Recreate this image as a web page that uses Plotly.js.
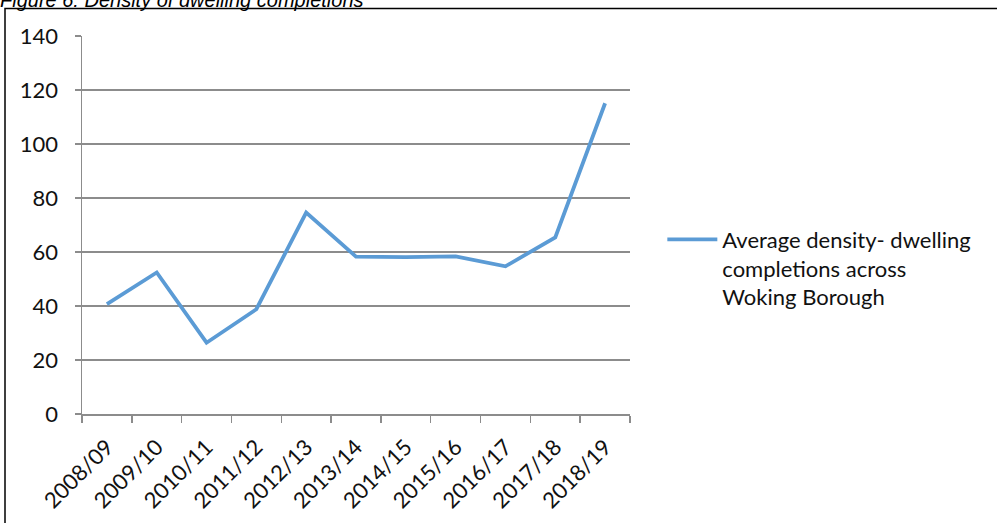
<!DOCTYPE html>
<html>
<head>
<meta charset="utf-8">
<script src="https://cdn.plot.ly/plotly-3.0.1.min.js"></script>
<style>
  html, body { margin: 0; padding: 0; background: #fff; }
  #chart { width: 997px; height: 523px; }
</style>
</head>
<body>
<div id="chart"></div>
<script>
// Financial years covered by the monitoring period
const years = ['2008/09', '2009/10', '2010/11', '2011/12', '2012/13', '2013/14',
               '2014/15', '2015/16', '2016/17', '2017/18', '2018/19'];

// Average density of dwelling completions (dwellings per hectare)
const avgDensity = [40.7, 52.4, 26.4, 38.8, 74.6, 58.3, 58.1, 58.4, 54.7, 65.4, 115.1];

const seriesName = 'Average density- dwelling<br>completions across<br>Woking Borough';
const yTicks = [0, 20, 40, 60, 80, 100, 120, 140];

const gridGray = '#8c8c8c';
const labelFont = { family: 'Lato, "Open Sans", sans-serif', size: 22, color: '#111' };

const trace = {
  type: 'scatter',
  mode: 'lines',
  x: years,
  y: avgDensity,
  name: seriesName,
  line: { color: '#5b9bd5', width: 3.8 },
  showlegend: true
};

const layout = {
  width: 997,
  height: 523,
  margin: { l: 82, r: 367, t: 36, b: 109 },
  paper_bgcolor: '#fff',
  plot_bgcolor: '#fff',
  title: {
    text: 'Figure 6: Density of dwelling completions',
    font: { family: '"Liberation Sans", Arial, sans-serif', size: 20, style: 'italic', color: '#000' },
    xref: 'container', x: 0, xanchor: 'left',
    yref: 'container', y: 1 - 7 / 523, yanchor: 'bottom',
    pad: { t: 0, b: 0, l: 0, r: 0 }
  },
  xaxis: {
    type: 'category',
    range: [-0.5, 10.5],
    tickson: 'boundaries',
    ticks: 'outside',
    ticklen: 7,
    tickcolor: gridGray,
    tickwidth: 1.5,
    showline: true,
    linecolor: gridGray,
    linewidth: 1.5,
    showgrid: false,
    tickangle: -45,
    tickfont: labelFont,
    ticklabelstandoff: 10,
    fixedrange: true
  },
  yaxis: {
    range: [0, 140],
    tickvals: yTicks,
    ticks: 'outside',
    ticklen: 6,
    tickcolor: gridGray,
    tickwidth: 1.5,
    showline: true,
    linecolor: gridGray,
    linewidth: 1.5,
    showgrid: true,
    gridcolor: gridGray,
    gridwidth: 1.2,
    zeroline: false,
    tickfont: labelFont,
    ticklabelstandoff: 12,
    fixedrange: true
  },
  legend: {
    x: 1.059, xanchor: 'left',
    y: 0.386, yanchor: 'middle',
    valign: 'top',
    font: labelFont,
    bgcolor: 'rgba(0,0,0,0)',
    itemwidth: 50
  },
  shapes: [{
    type: 'rect',
    xref: 'paper', yref: 'paper',
    x0: -77 / 548, x1: 2,
    y0: -1, y1: (414 - 8.5) / 378,
    line: { color: '#000', width: 1.5 },
    layer: 'below'
  }]
};

Plotly.newPlot('chart', [trace], layout, { displayModeBar: false, staticPlot: true });
</script>
</body>
</html>
